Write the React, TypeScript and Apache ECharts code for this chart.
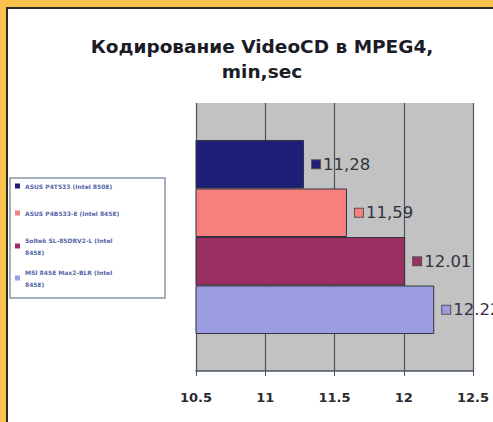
import React, { useEffect, useRef } from "react";
import * as echarts from "echarts";

const titleLines = ["Кодирование VideoCD в MPEG4,", "min,sec"];
const seriesNames = [
  "ASUS P4T533 (Intel 850E)",
  "ASUS P4B533-E (Intel 845E)",
  "Soltek SL-85DRV2-L (Intel 845E)",
  "MSI 845E Max2-BLR (Intel 845E)",
];
const legendLabels = [
  "ASUS P4T533 (Intel 850E)",
  "ASUS P4B533-E (Intel 845E)",
  "Soltek SL-85DRV2-L (Intel\n845E)",
  "MSI 845E Max2-BLR (Intel\n845E)",
];
const values = [11.28, 11.59, 12.01, 12.22];
const valueLabels = ["11,28", "11,59", "12.01", "12.22"];
const colors = ["#1f1f78", "#f7807c", "#9a2f62", "#9c9ce0"];
const xTicks = [10.5, 11, 11.5, 12, 12.5];
const category = ["VideoCD"];
const legendTops = [180, 207, 234, 266];

export default function App() {
  const ref = useRef<HTMLDivElement>(null);
  useEffect(() => {
    if (!ref.current) return;
    const chart = echarts.init(ref.current, null, { renderer: "svg" });
    const font = "DejaVu Sans";
    chart.setOption({
      animation: false,
      backgroundColor: "#ffffff",
      textStyle: { fontFamily: font },
      title: {
        text: titleLines.join("\n"),
        left: 257,
        textAlign: "center",
        top: 29,
        textStyle: {
          fontFamily: font,
          fontWeight: "bold",
          fontSize: 18.5,
          lineHeight: 25,
          color: "#1c1c28",
        },
      },
      graphic: [
        { type: "rect", shape: { x: 0, y: 0, width: 493, height: 7 }, style: { fill: "#f8c24c" }, silent: true },
        { type: "rect", shape: { x: 0, y: 0, width: 6, height: 422 }, style: { fill: "#f8c24c" }, silent: true },
        { type: "rect", shape: { x: 6, y: 7, width: 487, height: 2 }, style: { fill: "#2a2a2a" }, silent: true },
        { type: "rect", shape: { x: 6, y: 7, width: 2, height: 415 }, style: { fill: "#2a2a2a" }, silent: true },
        {
          type: "rect",
          z: -1,
          shape: { x: 10, y: 178, width: 155, height: 120 },
          style: { fill: "#ffffff", stroke: "#8a98a8", lineWidth: 1.5 },
          silent: true,
        },
      ],
      legend: seriesNames.map((name, i) => ({
        orient: "vertical",
        left: 10,
        top: legendTops[i],
        padding: [0, 5],
        itemWidth: 5,
        itemHeight: 5,
        icon: "rect",
        data: [name],
        itemStyle: { borderWidth: 0 },
        formatter: (n: string) => legendLabels[seriesNames.indexOf(n)],
        textStyle: { fontSize: 6, lineHeight: 12, color: "#5566aa", fontFamily: font, fontWeight: "bold" },
      })),
      grid: {
        left: 196,
        right: 20,
        top: 103,
        bottom: 51,
        show: true,
        backgroundColor: "#c2c2c2",
        borderWidth: 0,
      },
      xAxis: {
        type: "value",
        min: 10.5,
        max: 12.5,
        interval: 0.5,
        axisLine: { show: true, lineStyle: { color: "#4a5560", width: 1.5 } },
        axisTick: { show: true, length: 5, lineStyle: { color: "#4a5560" } },
        splitLine: { show: true, lineStyle: { color: "#4a5560", width: 1.2 } },
        axisLabel: {
          fontFamily: font,
          fontSize: 13,
          fontWeight: "bold",
          color: "#2a2a30",
          margin: 20,
          formatter: (v: number) => (xTicks.includes(v) ? String(v) : ""),
        },
      },
      yAxis: {
        type: "category",
        data: category,
        inverse: true,
        axisLine: { show: false },
        axisTick: { show: false },
        axisLabel: { show: false },
      },
      series: seriesNames.map((name, i) => ({
        name,
        type: "bar",
        data: [values[i]],
        barGap: "0%",
        barCategoryGap: "27.6%",
        itemStyle: { color: colors[i], borderColor: "#333340", borderWidth: 1 },
        label: {
          show: true,
          position: "right",
          distance: 8,
          formatter: () => `{s|}{v|${valueLabels[i]}}`,
          rich: {
            s: {
              width: 8,
              height: 8,
              backgroundColor: colors[i],
              borderColor: "#555",
              borderWidth: 1,
            },
            v: { fontFamily: font, fontSize: 16.5, color: "#333340", padding: [0, 0, 0, 3] },
          },
        },
      })),
    });
    return () => chart.dispose();
  }, []);
  return (
    <div
      ref={ref}
      style={{ position: "absolute", left: 0, top: 0, width: 493, height: 422 }}
    />
  );
}
